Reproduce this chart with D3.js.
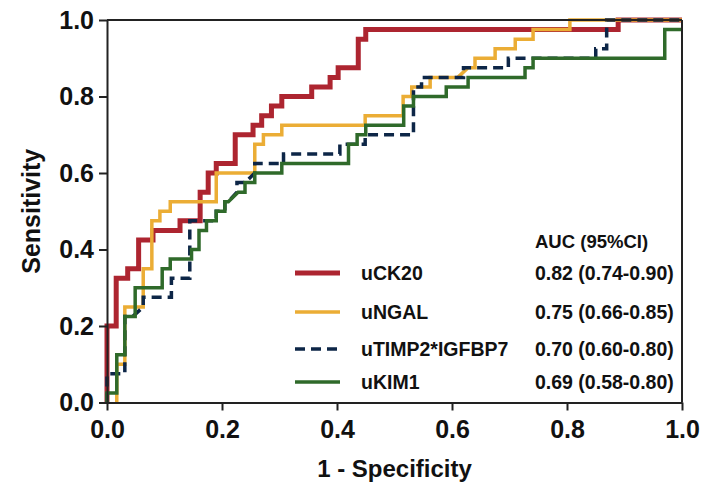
<!DOCTYPE html>
<html><head><meta charset="utf-8">
<script src="https://cdn.jsdelivr.net/npm/d3@7"></script>
<style>
body{margin:0;background:#fff;}
text{font-family:"Liberation Sans",Arial,Helvetica,sans-serif;font-weight:bold;fill:#111;}
</style>
</head><body><svg id="chart" width="703" height="491"></svg>
<script>
// ---- data ----
const seriesNames = ["uCK20", "uNGAL", "uTIMP2*IGFBP7", "uKIM1"];
const aucLabels = ["0.82 (0.74-0.90)", "0.75 (0.66-0.85)", "0.70 (0.60-0.80)", "0.69 (0.58-0.80)"];
const aucHeader = "AUC (95%CI)";
const xTicks = [0, 0.2, 0.4, 0.6, 0.8, 1.0];
const yTicks = [0, 0.2, 0.4, 0.6, 0.8, 1.0];
const xTitle = "1 - Specificity";
const yTitle = "Sensitivity";

// ROC points: [1 - specificity, sensitivity]
const uCK20 = [[0,0],[0,0.2],[0.016,0.2],[0.016,0.325],[0.036,0.325],[0.036,0.35],[0.055,0.35],[0.055,0.425],
  [0.08,0.425],[0.08,0.45],[0.127,0.45],[0.127,0.475],[0.162,0.475],[0.162,0.55],[0.176,0.55],[0.176,0.6],
  [0.19,0.6],[0.19,0.625],[0.223,0.625],[0.223,0.7],[0.254,0.7],[0.254,0.725],[0.269,0.725],[0.269,0.75],
  [0.286,0.75],[0.286,0.775],[0.304,0.775],[0.304,0.8],[0.356,0.8],[0.356,0.825],[0.388,0.825],[0.388,0.85],
  [0.402,0.85],[0.402,0.875],[0.437,0.875],[0.437,0.95],[0.45,0.95],[0.45,0.975],[0.889,0.975],[0.889,1],[1,1]];
const uNGAL = [[0.017,0],[0.017,0.1],[0.031,0.1],[0.031,0.25],[0.063,0.25],[0.063,0.35],[0.078,0.35],[0.078,0.475],
  [0.092,0.475],[0.092,0.5],[0.11,0.5],[0.11,0.525],[0.19,0.525],[0.19,0.6],[0.257,0.6],[0.257,0.675],
  [0.272,0.675],[0.272,0.7],[0.304,0.7],[0.304,0.725],[0.449,0.725],[0.449,0.75],[0.515,0.75],[0.515,0.8],
  [0.53,0.8],[0.53,0.825],[0.562,0.825],[0.562,0.85],[0.61,0.85],[0.628,0.875],[0.64,0.875],[0.64,0.9],
  [0.675,0.9],[0.675,0.925],[0.71,0.925],[0.71,0.95],[0.741,0.95],[0.741,0.975],[0.805,0.975],[0.805,1],[1,1]];
const uTIMP2IGFBP7 = [[0,0],[0,0.075],[0.031,0.075],[0.031,0.225],[0.045,0.225],[0.063,0.25],[0.063,0.275],
  [0.112,0.275],[0.112,0.325],[0.144,0.325],[0.144,0.475],[0.19,0.475],[0.19,0.5],[0.205,0.5],[0.205,0.525],
  [0.211,0.525],[0.226,0.55],[0.226,0.575],[0.24,0.575],[0.257,0.6],[0.257,0.625],[0.307,0.625],[0.307,0.65],
  [0.405,0.65],[0.405,0.675],[0.449,0.675],[0.449,0.7],[0.533,0.7],[0.533,0.825],[0.547,0.825],[0.547,0.85],
  [0.62,0.85],[0.62,0.875],[0.698,0.875],[0.698,0.9],[0.85,0.9],[0.85,0.925],[0.869,0.925],[0.869,1],[1,1]];
const uKIM1 = [[0,0],[0,0.025],[0.017,0.025],[0.017,0.125],[0.031,0.125],[0.031,0.225],[0.049,0.225],[0.049,0.3],
  [0.096,0.3],[0.096,0.35],[0.11,0.35],[0.11,0.375],[0.147,0.375],[0.147,0.4],[0.16,0.4],[0.16,0.45],
  [0.173,0.45],[0.173,0.475],[0.19,0.475],[0.19,0.5],[0.205,0.5],[0.205,0.525],[0.211,0.525],[0.228,0.55],
  [0.24,0.55],[0.24,0.575],[0.257,0.575],[0.257,0.6],[0.304,0.6],[0.304,0.625],[0.42,0.625],[0.42,0.675],
  [0.435,0.675],[0.435,0.7],[0.45,0.7],[0.45,0.725],[0.516,0.725],[0.516,0.775],[0.533,0.775],[0.533,0.8],
  [0.59,0.8],[0.59,0.825],[0.628,0.825],[0.628,0.85],[0.727,0.85],[0.727,0.875],[0.741,0.875],[0.741,0.9],
  [0.97,0.9],[0.97,0.975],[1,0.975]];

// ---- styles ----
const styles = [
  {color:"#ad2530", width:5, dash:null},
  {color:"#ebad35", width:3.5, dash:null},
  {color:"#0d2647", width:3.5, dash:"10,6"},
  {color:"#2f6a2a", width:3.5, dash:null}
];
const seriesData = [uCK20, uNGAL, uTIMP2IGFBP7, uKIM1];

const svg = d3.select("#chart");
const x = d3.scaleLinear().domain([0,1]).range([107,682]);
const y = d3.scaleLinear().domain([0,1]).range([402.5,20]);

const line = d3.line().x(d => x(d[0])).y(d => y(d[1]));

// curves
seriesData.forEach((s,i) => {
  svg.append("path").datum(s).attr("d", line)
    .attr("fill","none").attr("stroke", styles[i].color)
    .attr("stroke-width", styles[i].width)
    .attr("stroke-dasharray", styles[i].dash);
});

// frame top & right
svg.append("line").attr("x1", x(0)).attr("x2", x(1)).attr("y1", y(1)).attr("y2", y(1))
  .attr("stroke","#222").attr("stroke-width",2);
svg.append("line").attr("x1", x(1)).attr("x2", x(1)).attr("y1", y(1)).attr("y2", y(0))
  .attr("stroke","#222").attr("stroke-width",2);

// axes
const fmt = d3.format(".1f");
const gx = svg.append("g").attr("transform",`translate(0,${y(0)})`)
  .call(d3.axisBottom(x).tickValues(xTicks).tickFormat(fmt).tickSize(8).tickPadding(10).tickSizeOuter(0));
const gy = svg.append("g").attr("transform",`translate(${x(0)},0)`)
  .call(d3.axisLeft(y).tickValues(yTicks).tickFormat(fmt).tickSize(8).tickPadding(5).tickSizeOuter(0));
[gx, gy].forEach(g => {
  g.select(".domain").attr("stroke","#222").attr("stroke-width",2);
  g.selectAll(".tick line").attr("stroke","#222").attr("stroke-width",2);
  g.selectAll(".tick text").attr("font-size",25).attr("fill","#111")
    .style("font-family","'Liberation Sans',Arial,sans-serif").style("font-weight","bold");
});

// titles
svg.append("text").attr("x", (x(0)+x(1))/2).attr("y", 477).attr("text-anchor","middle")
  .attr("font-size",24).text(xTitle);
svg.append("text").attr("transform",`translate(40,${(y(0)+y(1))/2}) rotate(-90)`)
  .attr("text-anchor","middle").attr("font-size",25).text(yTitle);

// legend
const rowY = [280, 319, 356, 389];
svg.append("text").attr("x",535).attr("y",248).attr("font-size",18.5).text(aucHeader);
seriesNames.forEach((n,i) => {
  svg.append("line").attr("x1",295).attr("x2",340).attr("y1",rowY[i]-7).attr("y2",rowY[i]-7)
    .attr("stroke",styles[i].color).attr("stroke-width",styles[i].width)
    .attr("stroke-dasharray",styles[i].dash);
  svg.append("text").attr("x",361).attr("y",rowY[i]).attr("font-size",19.5).text(n);
  svg.append("text").attr("x",535).attr("y",rowY[i]).attr("font-size",19.5).text(aucLabels[i]);
});
</script>
</body></html>
